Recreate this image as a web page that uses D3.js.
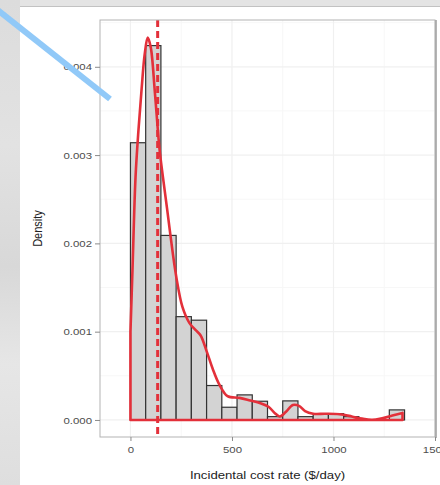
<!DOCTYPE html>
<html>
<head>
<meta charset="utf-8">
<script src="https://cdn.jsdelivr.net/npm/d3@7"></script>
<style>
  html, body { margin: 0; padding: 0; background: #ffffff; }
  svg { display: block; }
</style>
</head>
<body>
<svg id="chart" width="440" height="485"></svg>
<script>
// Histogram of incidental cost rate, bin width 75 $/day (bin left edges)
const binStarts = [-75, 0, 75, 150, 225, 300, 375, 450, 525, 600, 675,
                   750, 825, 900, 975, 1050, 1125, 1200, 1275, 1350];
const binWidth = 75;
const binDensity = [0, 0.00314, 0.00424, 0.00209, 0.00117, 0.00113, 0.00039,
                    0.000144, 0.000284, 0.000212, 0.0000375, 0.000216, 0.0000375,
                    0.0000716, 0.0000716, 0.0000375, 0, 0, 0.000114, 0];

// Kernel density estimate, sampled along the cost axis
const kdeX = [0, 10, 25, 40, 55, 70, 85, 100, 120, 143, 160, 180, 197, 225, 256,
              290, 320, 345, 375, 405, 438, 478, 537, 590, 640, 680, 710, 735,
              765, 800, 830, 860, 900, 960, 1030, 1090, 1140, 1190, 1240, 1290, 1340];
const kdeY = [0.00100, 0.00170, 0.00275, 0.00330, 0.00375, 0.00414, 0.00433,
              0.00422, 0.00372, 0.00307, 0.00275, 0.00240, 0.00209, 0.00163, 0.00128,
              0.00110, 0.00102, 0.00096, 0.00078, 0.00058, 0.00040, 0.00027, 0.00025,
              0.00022, 0.00019, 0.00015, 0.00008, 0.00004, 0.00009, 0.00017, 0.00016,
              0.00010, 0.00007, 0.00007, 0.000065, 0.00004, 0.000015, 0.000002,
              0.00002, 0.00005, 0.00008];

// Mean cost rate
const meanCost = 134;

const xTicks = [0, 500, 1000, 1500];
const xMinor = [250, 750, 1250];
const yTicks = [0, 0.001, 0.002, 0.003, 0.004];
const yMinor = [0.0005, 0.0015, 0.0025, 0.0035, 0.0045];

const xTitle = "Incidental cost rate ($/day)";
const yTitle = "Density";

const RED = "#e3303a";
const STRETCH = 1.2;
const FONT = "'Liberation Sans', Arial, Helvetica, sans-serif";

const svg = d3.select("#chart");

// ---- backdrop: slide frame ----
const defs = svg.append("defs");
const grad = defs.append("linearGradient").attr("id", "sideGrad")
  .attr("x1", 0).attr("y1", 0).attr("x2", 0).attr("y2", 1);
[["0%", "#dcdcdc"], ["30%", "#e2e2e2"], ["55%", "#d8d8d8"], ["75%", "#e6e6e6"], ["100%", "#dedede"]]
  .forEach(([o, c]) => grad.append("stop").attr("offset", o).attr("stop-color", c));

svg.append("rect").attr("x", 0).attr("y", 0).attr("width", 440).attr("height", 485).attr("fill", "#ffffff");
svg.append("rect").attr("x", 0).attr("y", 0).attr("width", 440).attr("height", 7).attr("fill", "#e4e4e4");
svg.append("line").attr("x1", 20).attr("x2", 440).attr("y1", 6.5).attr("y2", 6.5)
  .attr("stroke", "#c2c2c2").attr("stroke-width", 1);
svg.append("rect").attr("x", 0).attr("y", 0).attr("width", 20).attr("height", 485).attr("fill", "url(#sideGrad)");

// ---- plot panel ----
const panel = { left: 100, right: 435, top: 20, bottom: 437 };

const x = d3.scaleLinear().domain([-150, 1500]).range([panel.left, panel.right]);
const y = d3.scaleLinear().domain([-0.000193, 0.00453]).range([panel.bottom, panel.top]);

const plot = svg.append("g");

plot.append("rect")
  .attr("x", panel.left).attr("y", panel.top)
  .attr("width", panel.right - panel.left).attr("height", panel.bottom - panel.top)
  .attr("fill", "#ffffff");

// grid
const grid = plot.append("g");
grid.selectAll(".gxm").data(xMinor).join("line")
  .attr("x1", d => x(d)).attr("x2", d => x(d))
  .attr("y1", panel.top).attr("y2", panel.bottom)
  .attr("stroke", "#f7f7f7").attr("stroke-width", 1);
grid.selectAll(".gym").data(yMinor).join("line")
  .attr("y1", d => y(d)).attr("y2", d => y(d))
  .attr("x1", panel.left).attr("x2", panel.right)
  .attr("stroke", "#f7f7f7").attr("stroke-width", 1);
grid.selectAll(".gx").data(xTicks).join("line")
  .attr("x1", d => x(d)).attr("x2", d => x(d))
  .attr("y1", panel.top).attr("y2", panel.bottom)
  .attr("stroke", "#f0f0f0").attr("stroke-width", 1.2);
grid.selectAll(".gy").data(yTicks).join("line")
  .attr("y1", d => y(d)).attr("y2", d => y(d))
  .attr("x1", panel.left).attr("x2", panel.right)
  .attr("stroke", "#f0f0f0").attr("stroke-width", 1.2);

// histogram bars
plot.append("g").selectAll("rect").data(binStarts).join("rect")
  .attr("x", d => x(d))
  .attr("width", d => x(d + binWidth) - x(d))
  .attr("y", (d, i) => y(binDensity[i]))
  .attr("height", (d, i) => y(0) - y(binDensity[i]))
  .attr("fill", "#d3d3d3")
  .attr("stroke", "#333333")
  .attr("stroke-width", 1.2);

// density outline (closed to the baseline)
const kdePts = kdeX.map((v, i) => [v, kdeY[i]]);
const kdeLine = d3.line().x(d => x(d[0])).y(d => y(d[1])).curve(d3.curveCatmullRom.alpha(0.5));
const curveD = kdeLine(kdePts);
const outline = `M${x(kdeX[0])},${y(0)}L` + curveD.slice(1) +
  `L${x(kdeX[kdeX.length - 1])},${y(0)}Z`;
plot.append("path")
  .attr("d", outline)
  .attr("fill", "none")
  .attr("stroke", RED)
  .attr("stroke-width", 2.6)
  .attr("stroke-linejoin", "round");

// mean line
plot.append("line")
  .attr("x1", x(meanCost)).attr("x2", x(meanCost))
  .attr("y1", panel.top).attr("y2", panel.bottom)
  .attr("stroke", RED).attr("stroke-width", 3)
  .attr("stroke-dasharray", "7,4");

// panel border
plot.append("rect")
  .attr("x", panel.left).attr("y", panel.top)
  .attr("width", panel.right - panel.left).attr("height", panel.bottom - panel.top)
  .attr("fill", "none").attr("stroke", "#b3b3b3").attr("stroke-width", 1);
plot.append("line")
  .attr("x1", panel.right + 1).attr("x2", panel.right + 1)
  .attr("y1", panel.top).attr("y2", panel.bottom + 1)
  .attr("stroke", "#9c9c9c").attr("stroke-width", 1.5);

// axes
const xAxis = svg.append("g")
  .attr("transform", `translate(0,${panel.bottom})`)
  .call(d3.axisBottom(x).tickValues(xTicks).tickFormat(d3.format("d")).tickSize(4).tickPadding(3));
const yAxis = svg.append("g")
  .attr("transform", `translate(${panel.left},0)`)
  .call(d3.axisLeft(y).tickValues(yTicks).tickFormat(d3.format(".3f")).tickSize(5).tickPadding(3));

[xAxis, yAxis].forEach(a => {
  a.select(".domain").remove();
  a.selectAll(".tick line").attr("stroke", "#8a8a8a").attr("stroke-width", 1);
  a.selectAll(".tick text")
    .attr("fill", "#4d4d4d")
    .style("font-family", FONT)
    .style("font-size", "9.5px");
});
xAxis.selectAll(".tick text").attr("transform", `scale(${STRETCH},1)`).attr("y", 9);
yAxis.selectAll(".tick text").attr("transform", `scale(${STRETCH},1)`).attr("x", -8 / STRETCH);

// axis titles
svg.append("g")
  .attr("transform", `translate(${(panel.left + panel.right) / 2},479) scale(${STRETCH},1)`)
  .append("text")
  .attr("text-anchor", "middle")
  .attr("fill", "#222222")
  .style("font-family", FONT)
  .style("font-size", "11px")
  .text(xTitle);

svg.append("g")
  .attr("transform", `translate(42,${(panel.top + panel.bottom) / 2}) scale(${STRETCH},1) rotate(-90)`)
  .append("text")
  .attr("text-anchor", "middle")
  .attr("fill", "#222222")
  .style("font-family", FONT)
  .style("font-size", "11px")
  .text(yTitle);

// pointer stroke across the top-left corner
svg.append("line")
  .attr("x1", -10).attr("y1", 4)
  .attr("x2", 110).attr("y2", 99)
  .attr("stroke", "#91c9f8").attr("stroke-width", 6);
</script>
</body>
</html>
